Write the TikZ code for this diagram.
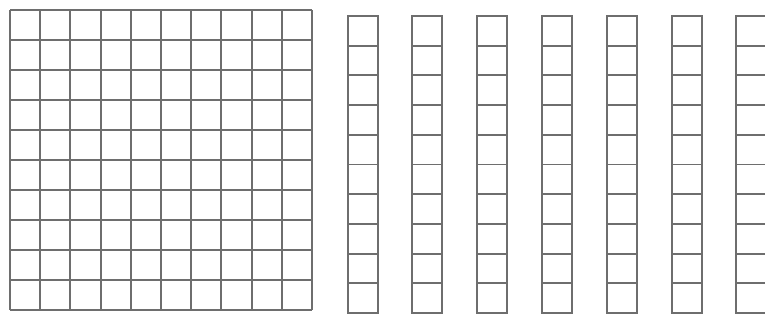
\documentclass[tikz,border=0pt]{standalone}
\usepackage{tikz}
\usetikzlibrary{calc}
\definecolor{gridGray}{HTML}{6E6E6E}

\begin{document}
\begin{tikzpicture}[
    x=0.02cm, y=-0.02cm,
    gridline/.style={draw=gridGray, line width=1.1pt},
    rodline/.style={draw=gridGray, line width=1.1pt},
]
    \useasboundingbox (0,0) rectangle (765,320);
    % hundred block
    \coordinate (hundredNW) at (10,10);
    \coordinate (hundredSE) at (312,310);
    \foreach \i in {0,...,10} {
        \draw[gridline] ($(hundredNW)+(30.2*\i,0)$) -- ($(hundredNW)+(30.2*\i,300)$);
        \draw[gridline] ($(hundredNW)+(0,30*\i)$) -- ($(hundredNW)+(302,30*\i)$);
    }
    % ten rods
    \foreach \r/\x in {1/348,2/412,3/477,4/542,5/607,6/672,7/736} {
        \coordinate (rod\r) at (\x,16);
        \draw[rodline] (rod\r) rectangle ($(rod\r)+(30,297)$);
        \foreach \k in {1,...,9}
            \draw[rodline] ($(rod\r)+(0,29.7*\k)$) -- ($(rod\r)+(30,29.7*\k)$);
    }
\end{tikzpicture}
\end{document}
